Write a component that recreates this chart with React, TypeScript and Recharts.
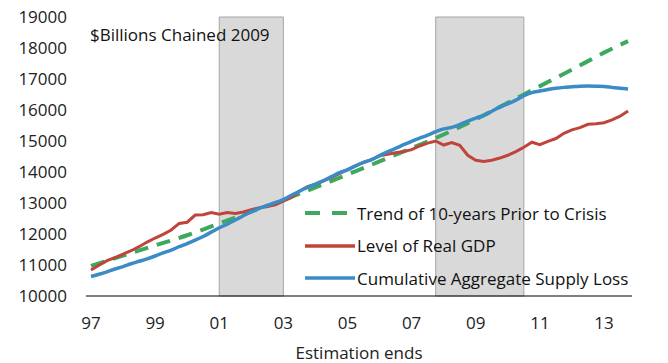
import { Legend, Line, LineChart, ReferenceArea, XAxis, YAxis } from "recharts";

const FONT = "'Open Sans', 'Noto Sans', sans-serif";
const FS = 17;

// quarterly positions, 1997Q1 .. 2013Q4
const quarters = Array.from({ length: 68 }, (_, i) => 1997 + i / 4);

// Level of Real GDP, $bn chained 2009
const realGdp = [
  10840, 10990, 11140, 11240,
  11350, 11460, 11590, 11740,
  11870, 11990, 12130, 12340,
  12380, 12610, 12620, 12690,
  12640, 12690, 12660, 12710,
  12780, 12850, 12890, 12940,
  13060, 13180, 13380, 13530,
  13600, 13710, 13830, 13950,
  14080, 14200, 14310, 14400,
  14520, 14570, 14620, 14660,
  14720, 14840, 14930, 15000,
  14870, 14950, 14860, 14540,
  14380, 14340, 14380, 14450,
  14540, 14660, 14800, 14960,
  14880, 14990, 15080, 15250,
  15360, 15430, 15540, 15560,
  15590, 15680, 15800, 15970,
];

// Cumulative aggregate supply loss path
const supplyLoss = [
  10630, 10700, 10780, 10870,
  10950, 11040, 11120, 11200,
  11290, 11390, 11480, 11590,
  11690, 11800, 11920, 12060,
  12200, 12320, 12450, 12590,
  12720, 12830, 12920, 13010,
  13110, 13250, 13380, 13500,
  13610, 13720, 13850, 13980,
  14070, 14200, 14310, 14400,
  14530, 14650, 14760, 14880,
  14990, 15090, 15190, 15300,
  15390, 15440, 15530, 15640,
  15740, 15830, 15960, 16100,
  16200, 16320, 16460, 16560,
  16610, 16660, 16700, 16730,
  16750, 16770, 16775, 16770,
  16760, 16730, 16700, 16680,
];

// Trend of 10 years prior to crisis
const trendYears = [
  1997, 1998, 1999, 2000, 2001, 2002, 2003, 2004, 2005,
  2006, 2007, 2008, 2009, 2010, 2011, 2012, 2013, 2013.75,
];
const trendValues = [
  10970, 11300, 11630, 11960, 12340, 12720, 13100, 13500, 13920,
  14340, 14770, 15210, 15700, 16230, 16770, 17300, 17850, 18220,
];

const xTicks = [1997, 1999, 2001, 2003, 2005, 2007, 2009, 2011, 2013];
const yTicks = [10000, 11000, 12000, 13000, 14000, 15000, 16000, 17000, 18000, 19000];
const shadedPeriods = [
  [2001, 2003],
  [2007.75, 2010.5],
];

const gdpData = quarters.map((x, i) => ({
  x,
  gdp: realGdp[i],
  supply: supplyLoss[i],
}));
const trendData = trendYears.map((x, i) => ({ x, trend: trendValues[i] }));

const series = [
  { key: "trend", name: "Trend of 10-years Prior to Crisis", color: "#3ea95e", dash: "14 9" },
  { key: "gdp", name: "Level of Real GDP", color: "#c0443a", dash: undefined },
  { key: "supply", name: "Cumulative Aggregate Supply Loss", color: "#3a8bc6", dash: undefined },
];

function LegendBox() {
  return (
    <div style={{ fontFamily: FONT, fontSize: FS, color: "#111" }}>
      {series.map((s) => (
        <div
          key={s.key}
          style={{ display: "flex", alignItems: "center", height: 32.5 }}
        >
          <svg width={52} height={10}>
            <line
              x1={0}
              y1={5}
              x2={s.dash ? 43 : 50}
              y2={5}
              stroke={s.color}
              strokeWidth={s.dash ? 4 : 3.5}
              strokeDasharray={s.dash ? "15 12" : undefined}
            />
          </svg>
          <span style={{ whiteSpace: "nowrap" }}>{s.name}</span>
        </div>
      ))}
    </div>
  );
}

export default function App() {
  return (
    <div style={{ position: "absolute", left: 0, top: 0, width: 668, height: 363, background: "#fff" }}>
      <LineChart
        width={668}
        height={363}
        margin={{ top: 17, right: 36, left: 0, bottom: 0 }}
      >
        <XAxis
          dataKey="x"
          type="number"
          domain={[1996.844, 2013.873]}
          ticks={xTicks}
          allowDataOverflow
          tickFormatter={(v: number) => String(v % 100).padStart(2, "0")}
          tick={{ fontSize: FS, fill: "#222", fontFamily: FONT }}
          tickLine={false}
          tickSize={0}
          tickMargin={21}
          axisLine={{ stroke: "#000", strokeWidth: 1 }}
          height={67}
          label={{
            value: "Estimation ends",
            position: "insideBottom",
            offset: 4,
            fontSize: FS,
            fill: "#222",
            fontFamily: FONT,
          }}
        />
        <YAxis
          domain={[10000, 19000]}
          ticks={yTicks}
          width={86}
          axisLine={false}
          tickLine={false}
          tickSize={0}
          tickMargin={19}
          tick={{ fontSize: FS, fill: "#222", fontFamily: FONT }}
        />
        {shadedPeriods.map(([a, b]) => (
          <ReferenceArea
            key={a}
            x1={a}
            x2={b}
            y1={10000}
            y2={19000}
            fill="#d9d9d9"
            fillOpacity={1}
            stroke="#a6a6a6"
            strokeWidth={1}
          />
        ))}
        <Legend
          layout="vertical"
          align="center"
          verticalAlign="middle"
          content={() => <LegendBox />}
          wrapperStyle={{ position: "absolute", left: 305, top: 197, width: 350 }}
        />
        <Line
          data={trendData}
          dataKey="trend"
          name={series[0].name}
          type="monotone"
          stroke={series[0].color}
          strokeWidth={4}
          strokeDasharray={series[0].dash}
          dot={false}
          isAnimationActive={false}
        />
        <Line
          data={gdpData}
          dataKey="gdp"
          name={series[1].name}
          type="linear"
          stroke={series[1].color}
          strokeWidth={3}
          dot={false}
          isAnimationActive={false}
        />
        <Line
          data={gdpData}
          dataKey="supply"
          name={series[2].name}
          type="monotone"
          stroke={series[2].color}
          strokeWidth={3.5}
          dot={false}
          isAnimationActive={false}
        />
      </LineChart>
      <div
        style={{
          position: "absolute",
          left: 90,
          top: 26,
          fontFamily: FONT,
          fontSize: FS,
          lineHeight: "17px",
          color: "#111",
          whiteSpace: "nowrap",
        }}
      >
        $Billions Chained 2009
      </div>
    </div>
  );
}
